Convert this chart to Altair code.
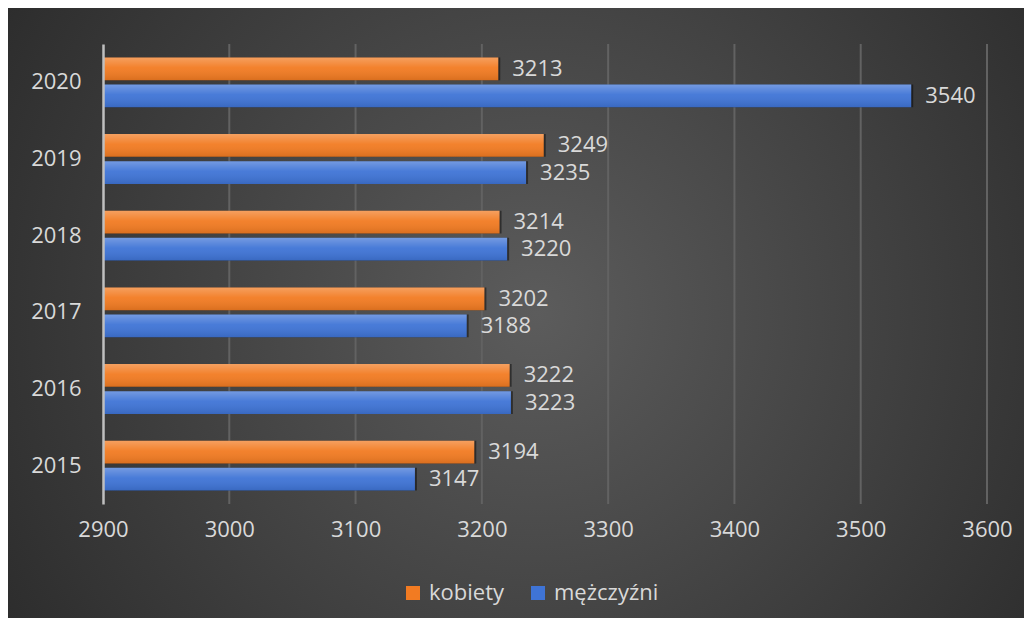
import altair as alt
import pandas as pd

years = ["2015", "2016", "2017", "2018", "2019", "2020"]
kobiety = [3194, 3222, 3202, 3214, 3249, 3213]
mezczyzni = [3147, 3223, 3188, 3220, 3235, 3540]
series = ["kobiety", "mężczyźni"]
x_ticks = [2900, 3000, 3100, 3200, 3300, 3400, 3500, 3600]

rows = []
for i, y in enumerate(years):
    rows.append({"year": y, "series": series[0], "value": kobiety[i]})
    rows.append({"year": y, "series": series[1], "value": mezczyzni[i]})
df = pd.DataFrame(rows)

FONT = "Open Sans"
FS = 22
TXT = "#d9d9d9"
W, H = 884, 460
PL, PT, PR, PB = 95, 36, 37, 114

y_enc = alt.Y("year:N", sort=years[::-1],
              scale=alt.Scale(paddingInner=0.35, paddingOuter=0.175),
              axis=alt.Axis(title=None, domain=True, domainColor="#bfbfbf", domainWidth=2.5,
                            ticks=False, grid=False, labelFontSize=FS, labelColor=TXT,
                            labelFont=FONT, labelPadding=22, zindex=1))
yoff = alt.YOffset("series:N", sort=series, scale=alt.Scale(paddingInner=0.16))
x_scale = alt.Scale(domain=[2900, 3600], nice=False, zero=False)
x_enc = alt.X("value:Q", scale=x_scale,
              axis=alt.Axis(title=None, values=x_ticks, format="d", grid=False,
                            domain=False, ticks=False, labelAlign="center",
                            labelFlush=False, labelBaseline="top",
                            labelFontSize=FS, labelColor=TXT, labelFont=FONT,
                            labelPadding=15, zindex=1))

bg = alt.Chart(pd.DataFrame({"a": [0]})).mark_rect(
    fill=alt.RadialGradient(gradient="radial",
                            stops=[alt.GradientStop(color="#5c5c5c", offset=0),
                                   alt.GradientStop(color="#3a3a3a", offset=0.6),
                                   alt.GradientStop(color="#242424", offset=1)],
                            x1=0.52, y1=0.5, x2=0.52, y2=0.5, r1=0, r2=0.72)
).encode(x=alt.value(-PL), x2=alt.value(W + PR), y=alt.value(-PT), y2=alt.value(H + PB))

grid = alt.Chart(pd.DataFrame({"value": x_ticks[1:]})).mark_rule(
    color="#626262", strokeWidth=2
).encode(x=x_enc, y=alt.value(0), y2=alt.value(H))

base = alt.Chart(df)

shadow = base.mark_bar(color="black", opacity=0.45, xOffset=2, yOffset=4).encode(
    x=x_enc, x2=alt.X2(datum=2900), y=y_enc, yOffset=yoff)

bars = base.mark_bar().encode(
    x=x_enc, x2=alt.X2(datum=2900), y=y_enc, yOffset=yoff,
    color=alt.Color("series:N", sort=series,
                    scale=alt.Scale(domain=series, range=["#F27B22", "#3F74D6"]),
                    legend=alt.Legend(title=None, orient="none", direction="horizontal",
                                      legendX=299, legendY=538, symbolType="square",
                                      symbolSize=196, symbolStrokeWidth=0,
                                      labelFontSize=FS, labelColor=TXT, labelFont=FONT,
                                      labelOffset=5, columnPadding=22)))

shine = base.mark_bar(
    fill=alt.LinearGradient(gradient="linear",
                            stops=[alt.GradientStop(color="rgba(255,255,255,0.28)", offset=0),
                                   alt.GradientStop(color="rgba(255,255,255,0.05)", offset=0.45),
                                   alt.GradientStop(color="rgba(0,0,0,0.10)", offset=1)],
                            x1=0, x2=0, y1=0, y2=1)
).encode(x=x_enc, x2=alt.X2(datum=2900), y=y_enc, yOffset=yoff)

labels = base.mark_text(align="left", baseline="middle", dx=14, fontSize=FS,
                        font=FONT, color=TXT).encode(
    x=x_enc, y=y_enc, yOffset=yoff, text=alt.Text("value:Q", format="d"))

chart = alt.layer(bg, grid, shadow, bars, shine, labels).properties(
    width=W, height=H,
    padding={"left": PL, "top": PT, "right": PR, "bottom": PB},
    autosize=alt.AutoSizeParams(type="none"),
    background="#262626",
).configure_view(stroke=None)

chart.save("out.html", embed_options={"renderer": "svg", "actions": False})
